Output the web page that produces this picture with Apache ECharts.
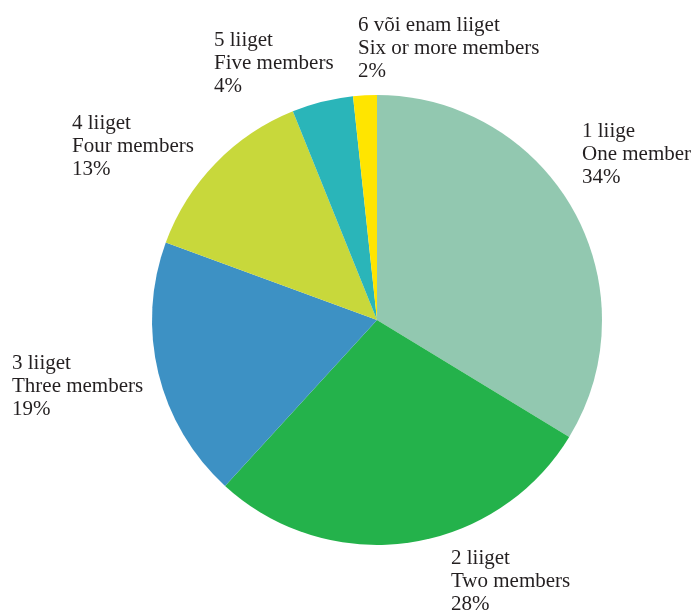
<!DOCTYPE html>
<html>
<head>
<meta charset="utf-8">
<script src="https://cdn.jsdelivr.net/npm/echarts@6/dist/echarts.min.js"></script>
<style>
  html, body { margin: 0; padding: 0; background: #ffffff; }
  #chart { width: 695px; height: 613px; }
</style>
</head>
<body>
<div id="chart"></div>
<script>
// Data
const categoriesEt = ['1 liige', '2 liiget', '3 liiget', '4 liiget', '5 liiget', '6 või enam liiget'];
const categoriesEn = ['One member', 'Two members', 'Three members', 'Four members', 'Five members', 'Six or more members'];
const shares = [33.7, 28.1, 18.8, 13.3, 4.4, 1.7];

// Styles / layout
const colors = ['#92C8B0', '#24B24B', '#3D91C4', '#C8D83B', '#2AB5B9', '#FFE500'];
const labelPos = [[582, 120], [451, 547], [12, 352], [72, 112], [214, 29], [358, 14]];

const chart = echarts.init(document.getElementById('chart'), null, { renderer: 'canvas' });
chart.setOption({
  animation: false,
  backgroundColor: '#ffffff',
  series: [{
    type: 'pie',
    center: [377, 320],
    radius: [0, 225],
    startAngle: 90,
    clockwise: true,
    avoidLabelOverlap: false,
    data: shares.map((v, i) => ({
      value: v,
      name: categoriesEt[i],
      itemStyle: { color: colors[i] }
    })),
    itemStyle: { borderWidth: 0 },
    label: {
      show: true,
      position: 'outside',
      formatter: p => categoriesEt[p.dataIndex] + '\n' + categoriesEn[p.dataIndex] + '\n' + Math.round(p.value) + '%',
      fontFamily: '"Liberation Serif", "Times New Roman", serif',
      fontSize: 21,
      lineHeight: 23,
      color: '#231F20',
      align: 'left'
    },
    labelLine: { show: false },
    labelLayout: function (params) {
      const p = labelPos[params.dataIndex];
      return { x: p[0], y: p[1], align: 'left', verticalAlign: 'top' };
    },
    emphasis: { disabled: true }
  }]
});
</script>
</body>
</html>
